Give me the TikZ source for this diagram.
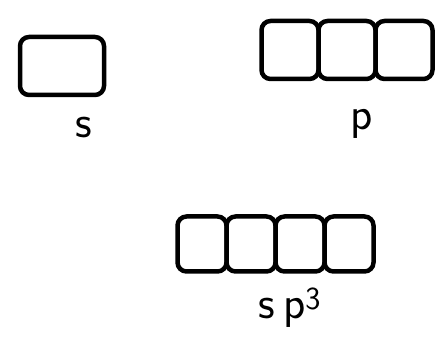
\documentclass[tikz,border=0pt]{standalone}
\usepackage{tikz}
\usetikzlibrary{positioning}

\begin{document}
\begin{tikzpicture}[x=1pt, y=-1pt,
    orb/.style={draw, line width=4.5pt, rounded corners=9pt, line join=round,
      minimum width=57pt, minimum height=58pt, inner sep=0pt},
    hyb/.style={orb, minimum width=49pt, minimum height=55pt},
    lbl/.style={font=\fontsize{46}{48}\selectfont\sffamily}]
  \useasboundingbox (0,0) rectangle (444,352);
  % single orbital
  \node[orb, minimum width=84pt] (s) at (62,66) {};
  \node[lbl] (slab) at (84,128) {s};
  % p set
  \node[orb] (p1) at (290,50) {};
  \node[orb, right=-4.5pt of p1] (p2) {};
  \node[orb, right=-4.5pt of p2] (p3) {};
  \node[lbl] (plab) at (362,124) {p};
  % hybrid set
  \node[hyb] (h1) at (202,244) {};
  \node[hyb, right=-4.5pt of h1] (h2) {};
  \node[hyb, right=-4.5pt of h2] (h3) {};
  \node[hyb, right=-4.5pt of h3] (h4) {};
  \node[lbl] (hlab) at (290,308) {s\,p\textsuperscript{3}};
\end{tikzpicture}
\end{document}
